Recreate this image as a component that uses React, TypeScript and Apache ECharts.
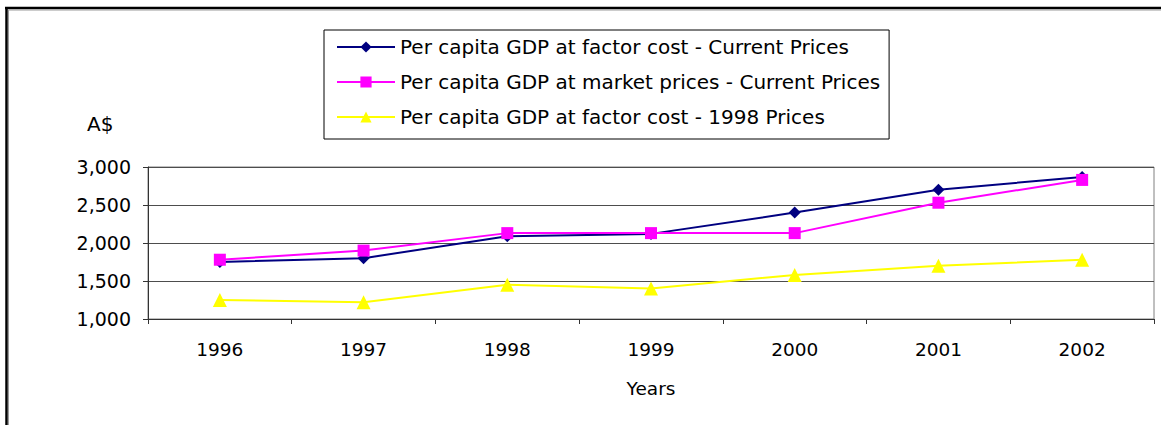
import React, { useEffect, useRef } from "react";
import * as echarts from "echarts";

const years = ["1996", "1997", "1998", "1999", "2000", "2001", "2002"];
const factorCurrent = [1750, 1800, 2090, 2120, 2400, 2700, 2870];
const marketCurrent = [1780, 1900, 2130, 2130, 2130, 2530, 2830];
const factor1998 = [1250, 1220, 1450, 1400, 1580, 1700, 1780];

const seriesNames = [
  "Per capita GDP at factor cost - Current Prices",
  "Per capita GDP at market prices - Current Prices",
  "Per capita GDP at factor cost - 1998 Prices",
];
const yMin = 1000;
const yMax = 3000;
const yStep = 500;
const yAxisTitle = "A$";
const xAxisTitle = "Years";

const FONT = "'DejaVu Sans', Arial, sans-serif";

export default function App() {
  const ref = useRef<HTMLDivElement>(null);

  useEffect(() => {
    if (!ref.current) return;
    const chart = echarts.init(ref.current, null, { renderer: "svg" });
    chart.setOption({
      animation: false,
      backgroundColor: "#ffffff",
      textStyle: { fontFamily: FONT },
      grid: {
        left: 148,
        right: 7,
        top: 167,
        bottom: 106,
        show: true,
        borderColor: "#808080",
        borderWidth: 1,
        backgroundColor: "transparent",
      },
      legend: {
        orient: "vertical",
        left: 324,
        top: 30,
        padding: [7, 9, 12, 12],
        itemGap: 15,
        itemWidth: 58,
        itemHeight: 14,
        borderColor: "#000000",
        borderWidth: 1,
        backgroundColor: "#ffffff",
        textStyle: { fontFamily: FONT, fontSize: 20, color: "#000000" },
        data: seriesNames,
      },
      xAxis: {
        type: "category",
        data: years,
        boundaryGap: true,
        name: xAxisTitle,
        nameLocation: "middle",
        nameGap: 60,
        nameTextStyle: { fontFamily: FONT, fontSize: 18.5, color: "#000000" },
        axisLine: { show: true, lineStyle: { color: "#333333", width: 1 } },
        axisTick: { show: true, inside: false, length: 5, alignWithLabel: false, lineStyle: { color: "#333333" } },
        axisLabel: { fontFamily: FONT, fontSize: 18.5, color: "#000000", margin: 21 },
        splitLine: { show: false },
      },
      yAxis: {
        type: "value",
        min: yMin,
        max: yMax,
        interval: yStep,
        axisLine: { show: true, lineStyle: { color: "#333333", width: 1 } },
        axisTick: { show: true, inside: false, length: 5, lineStyle: { color: "#333333" } },
        axisLabel: {
          fontFamily: FONT,
          fontSize: 19,
          color: "#000000",
          margin: 17,
          formatter: (v: number) => v.toLocaleString("en-US"),
        },
        splitLine: { show: true, lineStyle: { color: "#4d4d4d", width: 1 } },
      },
      graphic: [
        {
          type: "text",
          left: 87,
          top: 114,
          style: { text: yAxisTitle, fontFamily: FONT, fontSize: 20, fill: "#000000" },
        },
        {
          type: "line",
          shape: { x1: 5, y1: 8, x2: 1161, y2: 8 },
          style: { stroke: "#000000", lineWidth: 2.5 },
        },
        {
          type: "line",
          shape: { x1: 8, y1: 10, x2: 1161, y2: 10 },
          style: { stroke: "#9a9a9a", lineWidth: 1 },
        },
        {
          type: "line",
          shape: { x1: 6.5, y1: 7, x2: 6.5, y2: 425 },
          style: { stroke: "#000000", lineWidth: 2.5 },
        },
        {
          type: "line",
          shape: { x1: 8.5, y1: 10, x2: 8.5, y2: 425 },
          style: { stroke: "#9a9a9a", lineWidth: 1 },
        },
      ],
      series: [
        {
          name: seriesNames[0],
          type: "line",
          data: factorCurrent,
          symbol: "diamond",
          symbolSize: 12,
          itemStyle: { color: "#000080" },
          lineStyle: { color: "#000080", width: 2 },
        },
        {
          name: seriesNames[1],
          type: "line",
          data: marketCurrent,
          symbol: "rect",
          symbolSize: 12,
          itemStyle: { color: "#ff00ff" },
          lineStyle: { color: "#ff00ff", width: 2 },
        },
        {
          name: seriesNames[2],
          type: "line",
          data: factor1998,
          symbol: "triangle",
          symbolSize: 14,
          itemStyle: { color: "#ffff00" },
          lineStyle: { color: "#ffff00", width: 2 },
        },
      ],
    });
    return () => chart.dispose();
  }, []);

  return (
    <div
      ref={ref}
      style={{ position: "fixed", left: 0, top: 0, width: 1161, height: 425, background: "#ffffff" }}
    />
  );
}
